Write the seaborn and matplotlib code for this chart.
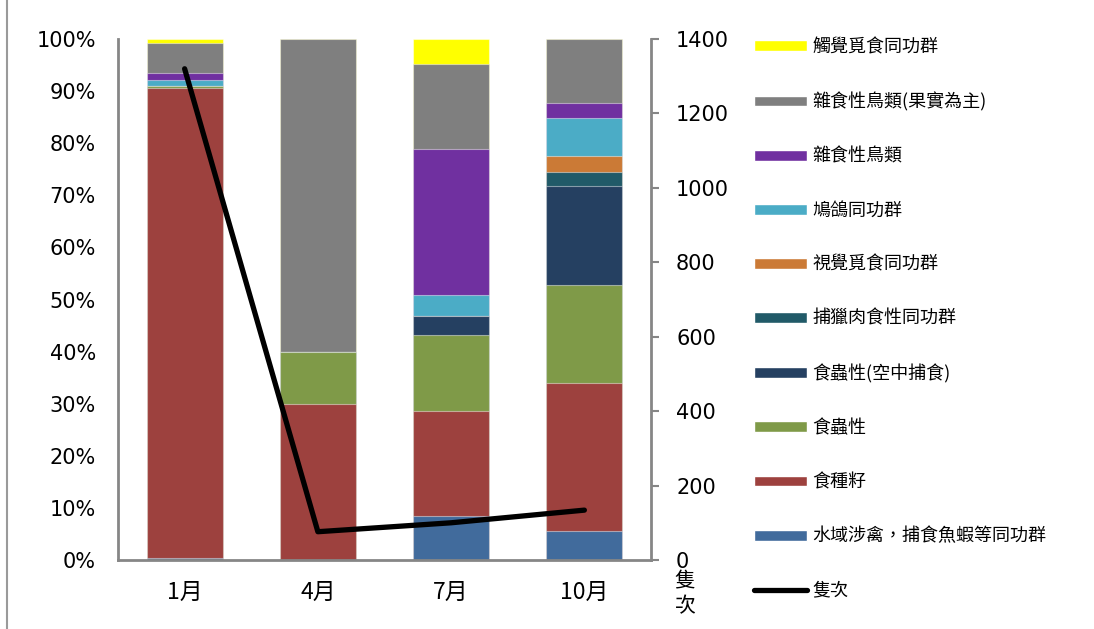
import matplotlib
matplotlib.use("Agg")
import matplotlib.pyplot as plt
from matplotlib.patches import Patch
from matplotlib.lines import Line2D
import numpy as np
import pandas as pd
import seaborn as sns

# Survey months
months = ["1月", "4月", "7月", "10月"]

# Guild composition per month (% of individuals), bottom layer first
wader = [0.3, 0.0, 8.4, 5.6]          # 水域涉禽，捕食魚蝦等同功群
seed = [90.3, 30.0, 20.2, 28.3]       # 食種籽
insect = [0.4, 10.0, 14.5, 18.9]      # 食蟲性
aerial = [0.0, 0.0, 3.7, 19.0]        # 食蟲性(空中捕食)
raptor = [0.0, 0.0, 0.0, 2.7]         # 捕獵肉食性同功群
visual = [0.0, 0.0, 0.0, 3.1]         # 視覺覓食同功群
dove = [1.1, 0.0, 4.0, 7.3]           # 鳩鴿同功群
omni = [1.3, 0.0, 28.0, 2.8]          # 雜食性鳥類
frugi = [5.8, 60.0, 16.4, 12.3]       # 雜食性鳥類(果實為主)
tactile = [0.8, 0.0, 4.8, 0.0]        # 觸覺覓食同功群

# Total individuals counted (隻次)
counts = [1320, 76, 100, 134]

layer_names = ["水域涉禽，捕食魚蝦等同功群", "食種籽", "食蟲性", "食蟲性(空中捕食)",
               "捕獵肉食性同功群", "視覺覓食同功群", "鳩鴿同功群", "雜食性鳥類",
               "雜食性鳥類(果實為主)", "觸覺覓食同功群"]
layers = [wader, seed, insect, aerial, raptor, visual, dove, omni, frugi, tactile]
colors = ["#416B9C", "#9D413E", "#7F9A48", "#254061", "#215A68",
          "#CB7A36", "#4BACC6", "#7030A0", "#7F7F7F", "#FFFF00"]

sns.set_theme(style="white")
plt.rcParams["font.family"] = ["DejaVu Sans", "Noto Sans CJK TC"]
plt.rcParams["text.color"] = "black"
plt.rcParams["xtick.color"] = "black"
plt.rcParams["ytick.color"] = "black"
cjk = ["Noto Sans CJK TC", "DejaVu Sans"]
axis_grey = "#868686"

W, H = 1094, 629
fig = plt.figure(figsize=(W / 100, H / 100), dpi=100)
ax = fig.add_axes([118 / W, 1 - 560 / H, (651 - 118) / W, (560 - 39) / H])

cum = np.cumsum(np.array(layers), axis=0)
# Draw stacked bars from the top layer down so each lower layer overlays the one above
for i in range(len(layers) - 1, -1, -1):
    df = pd.DataFrame({"month": months, "value": cum[i]})
    sns.barplot(data=df, x="month", y="value", color=colors[i], width=0.57,
                saturation=1, edgecolor=(1, 1, 1, 0.45), linewidth=0.8, ax=ax)

ax.set_ylim(0, 100)
ax.set_xlim(-0.5, 3.5)
ax.set_yticks(np.arange(0, 101, 10))
ax.set_yticklabels([f"{v}%" for v in range(0, 101, 10)], fontsize=15)
ax.set_xticks(range(4))
ax.set_xticklabels(months, family=cjk, fontsize=16.5)
ax.tick_params(axis="y", length=0, pad=16, colors="black")
ax.tick_params(axis="x", length=0, pad=15, colors="black")
ax.set_xlabel("")
ax.set_ylabel("")
for s in ["top", "right"]:
    ax.spines[s].set_visible(False)
for s in ["left", "bottom"]:
    ax.spines[s].set_color(axis_grey)
    ax.spines[s].set_linewidth(2)

ax2 = ax.twinx()
line_df = pd.DataFrame({"pos": np.arange(4), "count": counts})
sns.lineplot(data=line_df, x="pos", y="count", color="black", linewidth=3.8,
             ax=ax2, solid_capstyle="round", solid_joinstyle="round")
ax2.set_ylim(0, 1400)
ax2.set_yticks(np.arange(0, 1401, 200))
ax2.set_yticklabels([str(v) for v in range(0, 1401, 200)], fontsize=15)
ax2.tick_params(axis="y", direction="out", length=6, width=1.5, color=axis_grey,
                labelcolor="black", pad=12, right=True)
ax2.set_ylabel("")
ax2.set_xlabel("")
for s in ["top", "left", "bottom"]:
    ax2.spines[s].set_visible(False)
ax2.spines["right"].set_color(axis_grey)
ax2.spines["right"].set_linewidth(2)

fig.text(685 / W, 1 - 594 / H, "隻\n次", family=cjk, fontsize=15,
         ha="center", va="center", linespacing=1.15)

# Chart-area frame edge on the left
fig.add_artist(Line2D([7 / W, 7 / W], [0, 1], transform=fig.transFigure,
                      color="#9a9a9a", linewidth=1.5))

handles = [Patch(facecolor=colors[i]) for i in range(len(layers) - 1, -1, -1)]
handles.append(Line2D([0], [0], color="black", linewidth=3.8, solid_capstyle="round"))
labels = [layer_names[i] for i in range(len(layers) - 1, -1, -1)] + ["隻次"]
fig.legend(handles, labels, loc="upper left", bbox_to_anchor=(754 / W, 1 - 38 / H),
           frameon=False, prop={"family": cjk, "size": 13},
           handlelength=2.95, handleheight=0.55, handletextpad=0.3,
           labelspacing=2.0, borderaxespad=0, borderpad=0)

fig.savefig("out.png", dpi=100, facecolor="white")
